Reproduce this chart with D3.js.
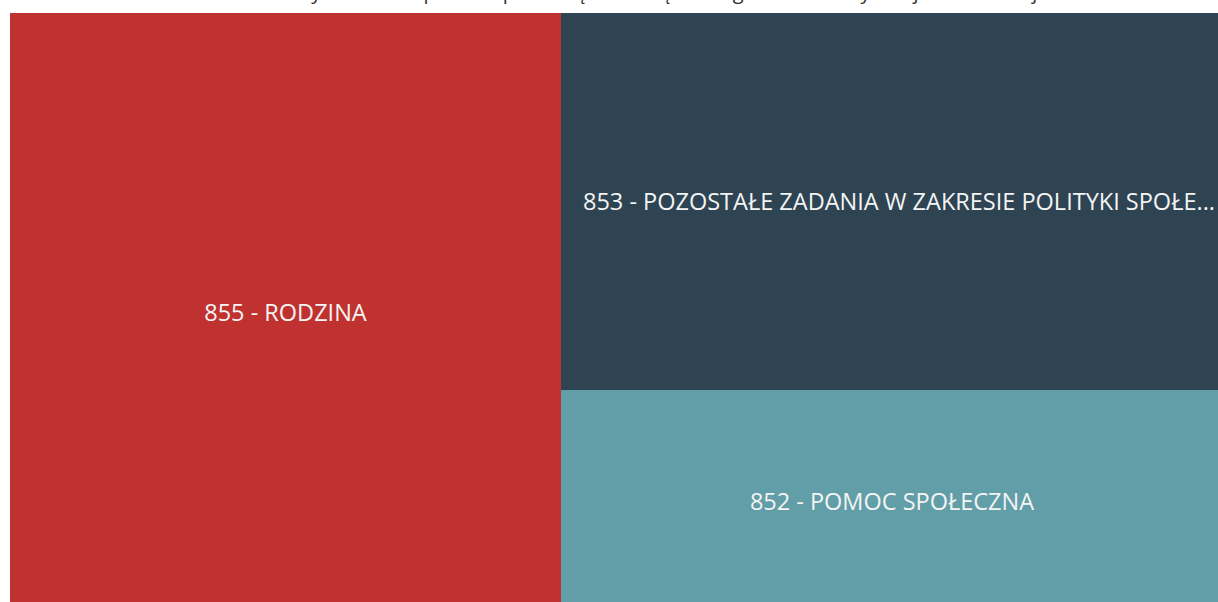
<!DOCTYPE html>
<html lang="pl">
<head>
<meta charset="utf-8">
<script src="https://cdn.jsdelivr.net/npm/d3@7"></script>
<style>
  html, body { margin: 0; padding: 0; background: #ffffff; overflow: hidden; }
  svg { display: block; font-family: "Open Sans", "Noto Sans", sans-serif; }
</style>
</head>
<body>
<svg id="chart" width="1218" height="602"></svg>
<script>
// Budget chapters (działy) and their share of spending
const codes = ["855", "853", "852"];
const names = ["RODZINA", "POZOSTAŁE ZADANIA W ZAKRESIE POLITYKI SPOŁECZNEJ", "POMOC SPOŁECZNA"];
const values = [45.4, 34.3, 20.3];
const colors = ["#C0322F", "#2E4453", "#619EA8"];
const title = "Struktura wydatków na pomoc społeczną i rodzinę według działów klasyfikacji budżetowej";

const svg = d3.select("#chart");
const W = 1218, H = 602;
const frame = { x: 10, y: 13, w: 1213, h: 600 };

// Title (sits at the very top edge of the view)
svg.append("text")
  .attr("x", 620)
  .attr("y", -1)
  .attr("text-anchor", "middle")
  .attr("font-size", 20)
  .attr("fill", "#333")
  .text(title);

// Hierarchy: largest chapter on its own, the other two stacked beside it
const leaves = codes.map((c, i) => ({ code: c, name: names[i], value: values[i], color: colors[i] }));
const rootData = { children: [leaves[0], { children: [leaves[1], leaves[2]] }] };

const root = d3.hierarchy(rootData).sum(d => d.value || 0);
d3.treemap()
  .tile(d3.treemapSliceDice)
  .size([frame.w, frame.h])
  .paddingInner(0)
  .round(true)(root);

const g = svg.append("g").attr("transform", `translate(${frame.x},${frame.y})`);

const cell = g.selectAll("g.cell")
  .data(root.leaves())
  .join("g")
  .attr("class", "cell")
  .attr("transform", d => `translate(${d.x0},${d.y0})`);

cell.append("rect")
  .attr("width", d => d.x1 - d.x0)
  .attr("height", d => d.y1 - d.y0)
  .attr("fill", d => d.data.color);

const label = cell.append("text")
  .attr("x", d => (d.x1 - d.x0) / 2)
  .attr("y", d => (d.y1 - d.y0) / 2)
  .attr("dy", "0.35em")
  .attr("text-anchor", "middle")
  .attr("font-size", 23.5)
  .attr("fill", "#F4F4F4")
  .text(d => `${d.data.code} - ${d.data.name}`);

// Shorten labels that do not fit within their tile
label.each(function(d) {
  const el = d3.select(this);
  const maxW = (d.x1 - d.x0) - 24;
  const full = `${d.data.code} - ${d.data.name}`;
  if (this.getComputedTextLength() <= maxW) return;
  let n = full.length;
  while (n > 1) {
    n--;
    el.text(full.slice(0, n).trimEnd() + "...");
    if (this.getComputedTextLength() <= maxW) break;
  }
  // truncated labels start from the tile's left padding
  el.attr("text-anchor", "start").attr("x", 22);
});
</script>
</body>
</html>
